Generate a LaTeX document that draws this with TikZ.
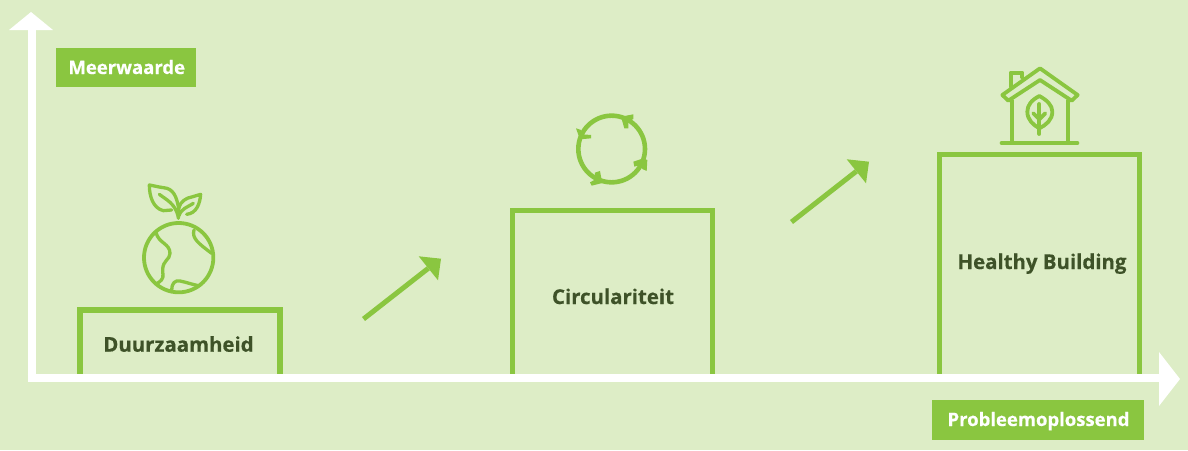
\documentclass[tikz,border=0pt]{standalone}
\usepackage{fontspec}
\setmainfont[BoldFeatures={FakeBold=0.5}]{Open Sans}
\definecolor{bgc}{HTML}{DDEDC6}
\definecolor{leafc}{HTML}{8AC640}
\definecolor{darkt}{HTML}{3E5228}
\tikzset{
  tag/.style={fill=leafc,text=white,font=\fontsize{18.5}{20}\selectfont\bfseries,inner sep=0pt,anchor=base,text height=26pt},
  steplabel/.style={text=darkt,font=\fontsize{20.4}{22}\selectfont\bfseries,inner sep=0pt,anchor=base},
  stepbox/.style={draw=leafc,line width=5.5pt,line join=miter},
  axisline/.style={draw=white,line width=8pt},
  growarrow/.style={draw=leafc,line width=5pt},
  growhead/.style={fill=leafc},
  icon/.style={draw=leafc,line width=3.8pt,line cap=round,line join=round},
  iconthin/.style={draw=leafc,line width=3.3pt,line cap=round,line join=round}
}
\begin{document}
\begin{tikzpicture}[x=1pt,y=-1pt]
\useasboundingbox (0,0) rectangle (1188,450);
\fill[bgc] (0,0) rectangle (1188,450);
% step boxes
\draw[stepbox] (80,374) -- (80,310) -- (280,310) -- (280,374);
\draw[stepbox] (512.5,374) -- (512.5,210.5) -- (712.5,210.5) -- (712.5,374);
\draw[stepbox] (939.5,374) -- (939.5,154.5) -- (1139.5,154.5) -- (1139.5,374);
\node[steplabel] (duur) at (178.5,351.7) {Duurzaamheid};
\node[steplabel] (circ) at (613,304) {Circulariteit};
\node[steplabel] (heal) at (1042,269) {Healthy Building};
% axes
\coordinate (origin) at (31.5,377.5);
\coordinate (ytop) at (31.5,30);
\coordinate (xend) at (1159,377.5);
\draw[axisline,line cap=butt] (27.5,377.5) -- (xend);
\draw[axisline] (origin) -- (ytop);
\fill[white] (9,30) -- (31,12) -- (53,30) -- cycle;
\fill[white] (1159,352) -- (1180,379) -- (1159,406) -- cycle;
% tags
\node[tag,minimum width=140pt,text depth=13pt] (meer) at (126,74) {\hspace{1.5pt}Meerwaarde};
\node[tag,minimum width=212pt,text depth=14pt] (prob) at (1038,426) {\hspace{1pt}Probleemoplossend};
% growth arrows
\coordinate (a1) at (363.5,319); \coordinate (a2) at (428.3,268.3);
\coordinate (b1) at (791.5,222); \coordinate (b2) at (856.3,171.3);
\draw[growarrow] (a1) -- (a2);
\draw[growarrow] (b1) -- (b2);
\fill[growhead] (418.7,256.3) -- (441,258.7) -- (438,280.3) -- cycle;
\fill[growhead] (846.7,159.3) -- (869,161.7) -- (866,183.3) -- cycle;
% globe icon
\begin{scope}[shift={(130,175)},x=.3333pt,y=-.3333pt]
\draw[icon] (146,248) circle[radius=104];
\draw[iconthin] (78,172) .. controls (85,205) and (120,205) .. (120,235) .. controls (120,255) and (98,255) .. (98,285) .. controls (98,305) and (105,310) .. (82,325);
\draw[iconthin] (192,165) .. controls (185,190) and (205,205) .. (245,235);
\draw[iconthin] (125,345) .. controls (125,325) and (135,315) .. (150,318) .. controls (170,322) and (185,328) .. (205,332);
\draw[iconthin] (145,130) -- (146,100) .. controls (140,65) and (130,40) .. (100,38) .. controls (85,36) and (70,32) .. (58,30) .. controls (58,65) and (70,100) .. (100,107) -- (125,105);
\draw[iconthin] (88,58) .. controls (110,75) and (135,85) .. (145,125);
\draw[iconthin] (146,100) .. controls (150,80) and (170,68) .. (185,66) -- (212,58) .. controls (210,85) and (200,115) .. (170,118);
\draw[iconthin] (190,85) .. controls (170,98) and (155,100) .. (147,122);
\end{scope}
% cycle icon
\begin{scope}[shift={(565,105)},x=.3333pt,y=-.3333pt]
\draw[draw=leafc,line width=4.6pt] (140,132) circle[radius=100];
\fill[leafc] (33,70) -- (48,75) -- (52,88) -- (78,90) -- (78,100) -- (45,103) -- cycle;
\fill[leafc] (205,28) -- (205,42) -- (190,50) -- (190,70) -- (178,70) -- (168,35) -- cycle;
\fill[leafc] (205,170) -- (235,160) -- (247,165) -- (245,198) -- (232,192) -- (228,180) -- (208,185) -- cycle;
\fill[leafc] (105,198) -- (110,225) -- (120,232) -- (80,242) -- (75,232) -- (88,225) -- (90,203) -- cycle;
\end{scope}
% house icon
\begin{scope}[shift={(990,60)},x=.3333pt,y=-.3333pt]
\draw[icon] (150,25) -- (263,105) -- (245,122) -- (150,60) -- (55,122) -- (37,105) -- cycle;
\draw[icon] (62,80) -- (62,38) -- (97,38) -- (97,52);
\draw[icon] (65,122) -- (65,249);
\draw[icon] (235,122) -- (235,249);
\draw[icon,line width=4pt] (35,249) -- (262,249);
\draw[icon] (148,108) .. controls (125,120) and (112,135) .. (112,155) .. controls (112,180) and (130,195) .. (148,205) .. controls (168,195) and (187,180) .. (187,155) .. controls (187,135) and (170,120) .. (148,108) -- cycle;
\draw[icon] (148,132) -- (148,222);
\draw[icon] (130,160) -- (148,178) -- (166,160);
\end{scope}
\end{tikzpicture}
\end{document}
